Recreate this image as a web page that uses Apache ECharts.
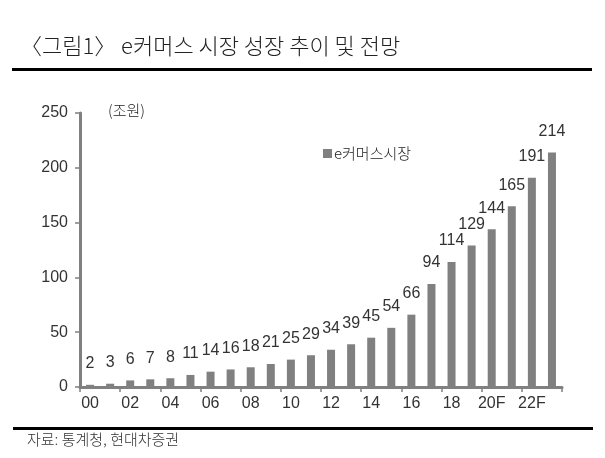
<!DOCTYPE html>
<html>
<head>
<meta charset="utf-8">
<script src="https://cdn.jsdelivr.net/npm/echarts@6/dist/echarts.min.js"></script>
<style>html,body{margin:0;padding:0;background:#fff}#c{width:605px;height:458px}</style>
</head>
<body>
<div id="c"></div>
<script>
const categories = ['00','01','02','03','04','05','06','07','08','09','10','11','12','13','14','15','16','17','18','19','20F','21F','22F','23F'];
const values = [2,3,6,7,8,11,14,16,18,21,25,29,34,39,45,54,66,94,114,129,144,165,191,214];
const seriesName = 'e커머스시장';
const titleText = '〈그림1〉 e커머스 시장 성장 추이 및 전망';
const unitText = '(조원)';
const sourceText = '자료: 통계청, 현대차증권';

const FONT = "'Noto Sans CJK KR', 'Noto Sans', sans-serif";
const NUM = "'Liberation Sans', 'Noto Sans', sans-serif";
const chart = echarts.init(document.getElementById('c'));
chart.setOption({
  animation: false,
  backgroundColor: '#fff',
  textStyle: {fontFamily: FONT},
  grid: {left: 80, right: 43, top: 113, bottom: 71},
  legend: {
    data: [seriesName], left: 318, top: 141, icon: 'rect', itemWidth: 9, itemHeight: 9, itemGap: 2,
    textStyle: {fontSize: 15, fontWeight: 300, color: '#222', fontFamily: FONT, padding: [0,0,0,-3]}
  },
  graphic: [
    {type: 'text', left: 20, top: 35, style: {text: titleText, fontSize: 22, fontWeight: 300, fill: '#222', fontFamily: FONT}},
    {type: 'rect', shape: {x: 12, y: 68, width: 580, height: 3}, style: {fill: '#000'}},
    {type: 'text', left: 108, top: 103, style: {text: unitText, fontSize: 15, fontWeight: 300, fill: '#222', fontFamily: FONT}},
    {type: 'rect', shape: {x: 13, y: 427, width: 580, height: 3}, style: {fill: '#000'}},
    {type: 'text', left: 27, top: 432, style: {text: sourceText, fontSize: 15, fontWeight: 300, fill: '#333', fontFamily: FONT}}
  ],
  xAxis: {
    type: 'category', data: categories,
    axisLine: {lineStyle: {color: '#808080', width: 3}},
    axisTick: {show: true, interval: 1, length: 5, lineStyle: {color: '#808080', width: 1.5}},
    axisLabel: {interval: 1, fontSize: 16, color: '#333', margin: 9, fontFamily: NUM}
  },
  yAxis: {
    type: 'value', min: 0, max: 250, interval: 50,
    splitLine: {show: false},
    axisLine: {show: true, lineStyle: {color: '#808080', width: 3}},
    axisTick: {show: true, length: 5, lineStyle: {color: '#808080', width: 1.5}},
    axisLabel: {fontSize: 16, color: '#333', margin: 12, fontFamily: NUM}
  },
  series: [{
    name: seriesName, type: 'bar', data: values, barWidth: 8,
    itemStyle: {color: '#808080'},
    label: {show: true, position: 'top', distance: 13, fontSize: 16, color: '#333', fontFamily: NUM}
  }]
});
</script>
</body>
</html>
